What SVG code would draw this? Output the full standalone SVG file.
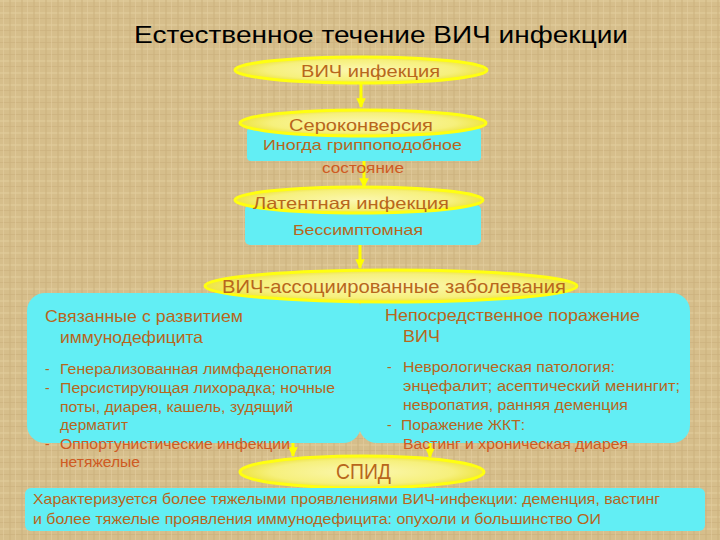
<svg xmlns="http://www.w3.org/2000/svg" width="720" height="540" viewBox="0 0 720 540">
<defs>
<pattern id="bg" width="12" height="12" patternUnits="userSpaceOnUse">
<rect width="12" height="12" fill="#d6be8b"/>
<rect x="0" y="0" width="12" height="2" fill="#dfc999" opacity="0.7"/>
<rect x="0" y="6" width="12" height="1" fill="#c9af7c" opacity="0.6"/>
<rect x="3" y="0" width="1" height="12" fill="#e2cd9f" opacity="0.6"/>
<rect x="9" y="0" width="2" height="12" fill="#cbb17e" opacity="0.5"/>
</pattern>
<radialGradient id="yel" cx="50%" cy="50%" r="50%">
<stop offset="0" stop-color="#fbf7b0"/>
<stop offset="0.75" stop-color="#f6f07c"/>
<stop offset="1" stop-color="#eee445"/>
</radialGradient>
<marker id="ah" viewBox="0 0 10 10" refX="9" refY="5" markerWidth="3.2" markerHeight="3.2" orient="auto">
<path d="M0,0 L10,5 L0,10 z" fill="#ffff00"/>
</marker>
<style>
.ell{fill:url(#yel);stroke:#ffff10;stroke-width:3}
.cy{fill:#62eef4}
.t{font-family:"Liberation Sans",Arial,sans-serif;fill:#b8661c}
.r{fill:#cf5a22}
.h{font-size:16.5px}
.s{font-size:14px}
.arr{stroke:#ffff00;stroke-width:3;fill:none;marker-end:url(#ah)}
</style>
</defs>
<rect width="720" height="540" fill="url(#bg)"/>

<text x="134" y="43" font-family="Liberation Sans, Arial, sans-serif" font-size="24" fill="#000" textLength="494" lengthAdjust="spacingAndGlyphs">Естественное течение ВИЧ инфекции</text>

<g id="connectors">
<line class="arr" x1="361" y1="84" x2="361" y2="107"/>
<line class="arr" x1="364" y1="160" x2="364" y2="187"/>
<line class="arr" x1="360" y1="245" x2="360" y2="268"/>
<line class="arr" x1="293" y1="418" x2="293" y2="456"/>
<line class="arr" x1="430" y1="418" x2="430" y2="457"/>
<line x1="360" y1="318" x2="360" y2="408" stroke="#1c1c6a" stroke-width="1"/>
</g>

<g id="n-hiv">
<ellipse class="ell" cx="361" cy="70" rx="126" ry="13"/>
<text class="t" x="301" y="77" font-size="16.5" textLength="139" lengthAdjust="spacingAndGlyphs">ВИЧ инфекция</text>
</g>

<g id="n-sero">
<rect class="cy" x="247" y="128" width="234" height="33" rx="4"/>
<ellipse class="ell" cx="363" cy="123" rx="123" ry="13"/>
<text class="t" x="289" y="131" font-size="17" textLength="144" lengthAdjust="spacingAndGlyphs">Сероконверсия</text>
<text class="t" x="263" y="150" font-size="14.5" textLength="199" lengthAdjust="spacingAndGlyphs">Иногда гриппоподобное</text>
<text class="t r" x="322" y="173" font-size="14.5" textLength="82" lengthAdjust="spacingAndGlyphs">состояние</text>
</g>

<g id="n-latent">
<rect class="cy" x="245" y="205" width="236" height="40" rx="5"/>
<ellipse class="ell" cx="359" cy="200" rx="124" ry="13"/>
<text class="t" x="253" y="209" font-size="16.5" textLength="196" lengthAdjust="spacingAndGlyphs">Латентная инфекция</text>
<text class="t" x="293" y="235" font-size="14.5" textLength="130" lengthAdjust="spacingAndGlyphs">Бессимптомная</text>
</g>

<g id="n-assoc">
<rect class="cy" x="27" y="293" width="334" height="150" rx="18"/>
<rect class="cy" x="359" y="293" width="331" height="150" rx="18"/>
<ellipse class="ell" cx="391" cy="286" rx="186" ry="16"/>
<text class="t" x="222" y="293" font-size="18.5" textLength="344" lengthAdjust="spacingAndGlyphs">ВИЧ-ассоциированные заболевания</text>
</g>

<g id="n-left">
<text class="t h" x="45" y="322" textLength="198" lengthAdjust="spacingAndGlyphs">Связанные с развитием</text>
<text class="t h" x="60" y="343" textLength="143" lengthAdjust="spacingAndGlyphs">иммунодефицита</text>
<text class="t s" x="45" y="374">-</text>
<text class="t s" x="60" y="374" textLength="272" lengthAdjust="spacingAndGlyphs">Генерализованная лимфаденопатия</text>
<text class="t s" x="45" y="393">-</text>
<text class="t s" x="60" y="393" textLength="275" lengthAdjust="spacingAndGlyphs">Персистирующая лихорадка; ночные</text>
<text class="t s" x="60" y="412" textLength="233" lengthAdjust="spacingAndGlyphs">поты, диарея, кашель, зудящий</text>
<text class="t s" x="60" y="430" textLength="68" lengthAdjust="spacingAndGlyphs">дерматит</text>
<text class="t s r" x="45" y="449">-</text>
<text class="t s r" x="60" y="449" textLength="230" lengthAdjust="spacingAndGlyphs">Оппортунистические инфекции</text>
<text class="t s r" x="60" y="467" textLength="80" lengthAdjust="spacingAndGlyphs">нетяжелые</text>
</g>

<g id="n-right">
<text class="t h" x="385" y="321" textLength="255" lengthAdjust="spacingAndGlyphs">Непосредственное поражение</text>
<text class="t h" x="403" y="342" textLength="37" lengthAdjust="spacingAndGlyphs">ВИЧ</text>
<text class="t s" x="387" y="372">-</text>
<text class="t s" x="403" y="372" textLength="212" lengthAdjust="spacingAndGlyphs">Неврологическая патология:</text>
<text class="t s" x="403" y="391" textLength="277" lengthAdjust="spacingAndGlyphs">энцефалит; асептический менингит;</text>
<text class="t s" x="403" y="410" textLength="225" lengthAdjust="spacingAndGlyphs">невропатия, ранняя деменция</text>
<text class="t s" x="387" y="430">-</text>
<text class="t s" x="401" y="430" textLength="124" lengthAdjust="spacingAndGlyphs">Поражение ЖКТ:</text>
<text class="t s r" x="403" y="449" textLength="225" lengthAdjust="spacingAndGlyphs">Вастинг и хроническая диарея</text>
</g>

<g id="n-aids">
<ellipse class="ell" cx="362" cy="472" rx="122" ry="16"/>
<text class="t" x="336" y="479" font-size="22" textLength="55" lengthAdjust="spacingAndGlyphs">СПИД</text>
</g>

<g id="n-desc">
<rect class="cy" x="25" y="488" width="680" height="43" rx="6"/>
<text class="t" x="33" y="504" font-size="15" textLength="627" lengthAdjust="spacingAndGlyphs">Характеризуется более тяжелыми проявлениями ВИЧ-инфекции: деменция, вастинг</text>
<text class="t" x="33" y="524" font-size="15" textLength="568" lengthAdjust="spacingAndGlyphs">и более тяжелые проявления иммунодефицита: опухоли и большинство ОИ</text>
</g>
</svg>
